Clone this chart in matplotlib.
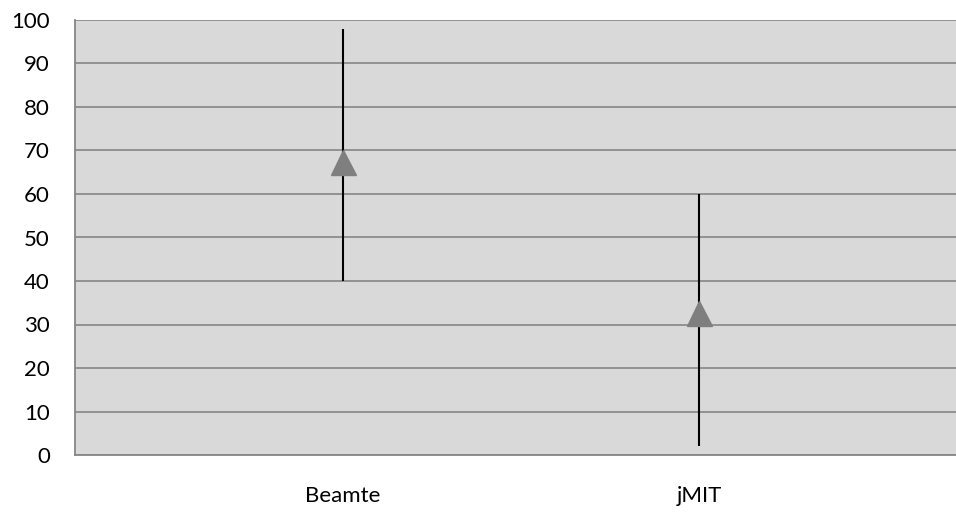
import matplotlib.pyplot as plt

# category labels and values
categories = ['Beamte', 'jMIT']
high_vals = [98, 60]
low_vals = [40, 2]
mid_vals = [67.4, 32.7]

plt.rcParams['font.family'] = ['Lato', 'DejaVu Sans']

fig = plt.figure(figsize=(9.56, 5.16), dpi=100)
ax = fig.add_axes([75 / 956, 61 / 516, 881 / 956, 435 / 516])
ax.set_facecolor('#d9d9d9')

xs = list(range(len(categories)))
ax.vlines(xs, low_vals, high_vals, color='black', linewidth=1.5, zorder=3)
ax.plot(xs, mid_vals, linestyle='none', marker='^', markersize=18,
        color='#7f7f7f', zorder=4)

ax.set_ylim(0, 100)
ax.set_xlim(-0.753, 1.722)
ax.set_yticks(range(0, 101, 10))
ax.set_xticks(xs)
ax.set_xticklabels(categories)
ax.grid(axis='y', color='#8c8c8c', linewidth=1.3, zorder=1)
ax.set_axisbelow(True)

for side in ['top', 'right']:
    ax.spines[side].set_visible(False)
for side in ['left', 'bottom']:
    ax.spines[side].set_color('#868686')
    ax.spines[side].set_linewidth(1.3)

ax.tick_params(axis='both', length=0, labelsize=16, colors='black')
ax.tick_params(axis='y', pad=18)
ax.tick_params(axis='x', pad=22)

fig.savefig('out.png', dpi=100)
